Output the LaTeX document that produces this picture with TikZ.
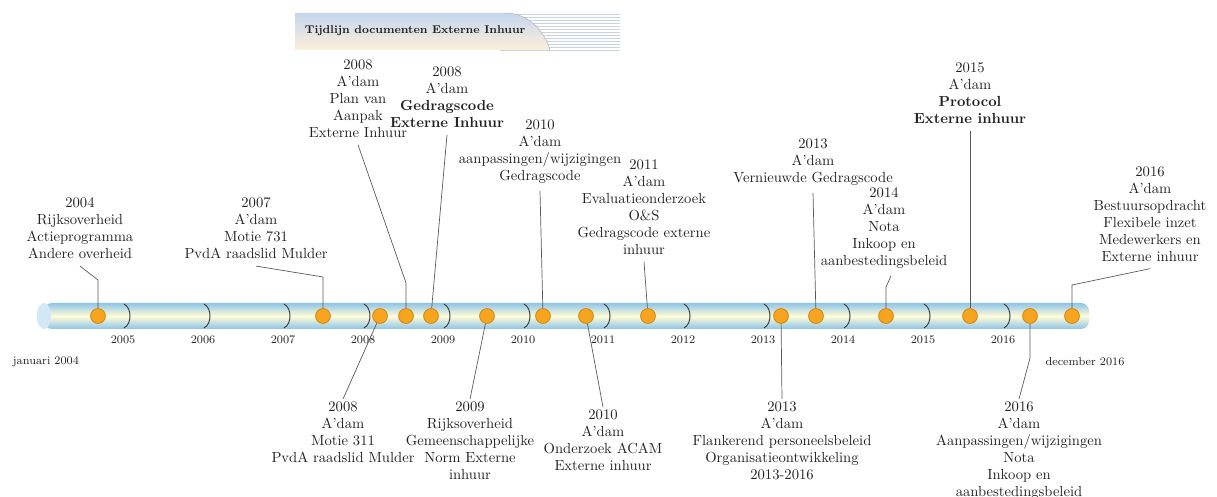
\documentclass[tikz,border=0pt]{standalone}
\usepackage{tikz}
\definecolor{tubeblue}{HTML}{8EC4E8}
\definecolor{tubecream}{HTML}{FFFCD8}
\definecolor{tubeend}{HTML}{D3E7F6}
\definecolor{dotorange}{HTML}{F7A51E}
\definecolor{dotedge}{HTML}{D0860F}
\definecolor{linkgray}{HTML}{5A5A5A}
\definecolor{textgray}{HTML}{222222}
\definecolor{bannertop}{HTML}{C6D6EE}
\definecolor{bannerbot}{HTML}{FBF0D9}
\definecolor{bannerline}{HTML}{C9D3E3}

\begin{document}
\begin{tikzpicture}[x=0.025cm, y=-0.025cm,
  dot/.style={circle, fill=dotorange, draw=dotedge, line width=0.6pt, minimum size=0.37cm, inner sep=0pt},
  event/.style={align=center, font=\fontsize{10.4}{12}\selectfont, inner sep=2pt, text=textgray},
  yearlbl/.style={font=\fontsize{8.2}{10}\selectfont, text=textgray},
  link/.style={draw=linkgray, line width=0.5pt},
  yearmark/.style={draw=black!75, line width=0.7pt}]
    \useasboundingbox (0,0) rectangle (1217,497);
    % banner
    \foreach \y in {14,17,...,50}
        \draw[bannerline, line width=0.4pt] (500,\y) -- (620,\y);
    \shade[top color=bannertop, bottom color=bannerbot] (295,13) -- (505,13) .. controls (530,13) and (545,33) .. (550,50) -- (295,50) -- cycle;
    \draw[gray!55, line width=0.4pt] (505,13) .. controls (530,13) and (545,33) .. (550,50);
    \node[anchor=west, font=\bfseries\fontsize{8}{9}\selectfont, text=textgray] (title) at (300,31) {Tijdlijn documenten Externe Inhuur};
    % tube
    \shade[top color=tubeblue, bottom color=tubeblue, middle color=tubecream, rounded corners=0.2cm] (44,303) rectangle (1089,329);
    \fill[tubeend] (44,316) ellipse [x radius=0.18cm, y radius=0.325cm];
    \foreach \x [count=\i from 2005] in {130,210,...,1010} {
        \draw[yearmark] (\x-6,304) .. controls (\x+2,308) and (\x+2,324) .. (\x-6,328);
        \node[yearlbl] (y\i) at (\x-7,340) {\i};
    }
    \node[yearlbl, anchor=west] (start) at (8,362) {januari 2004};
    \node[yearlbl] (end) at (1085,362) {december 2016};
    % events
    \foreach \x [count=\i] in {98,323,380,406,431,487,543,586,648,781,816,886,970,1030,1072}
        \node[dot] (e\i) at (\x,316) {};
    \node[event, anchor=north] (n1) at (80,195) {2004\\Rijksoverheid\\Actieprogramma\\Andere overheid};
    \node[event, anchor=north] (n2) at (256,195) {2007\\A'dam\\Motie 731\\PvdA raadslid Mulder};
    \node[event, anchor=north] (n3) at (343,399) {2008\\A'dam\\Motie 311\\PvdA raadslid Mulder};
    \node[event, anchor=north] (n4) at (358,57) {2008\\A'dam\\Plan van\\Aanpak\\Externe Inhuur};
    \node[event, anchor=north] (n5) at (447,64) {2008\\A'dam\\\textbf{Gedragscode}\\\textbf{Externe Inhuur}};
    \node[event, anchor=north] (n6) at (470,399) {2009\\Rijksoverheid\\Gemeenschappelijke\\Norm Externe\\inhuur};
    \node[event, anchor=north] (n7) at (540,117) {2010\\A'dam\\aanpassingen/wijzigingen\\Gedragscode};
    \node[event, anchor=north] (n8) at (603,407) {2010\\A'dam\\Onderzoek ACAM\\Externe inhuur};
    \node[event, anchor=north] (n9) at (644,157) {2011\\A'dam\\Evaluatieonderzoek\\O\&S\\Gedragscode externe\\inhuur};
    \node[event, anchor=north] (n10) at (782,399) {2013\\A'dam\\Flankerend personeelsbeleid\\Organisatieontwikkeling\\2013-2016};
    \node[event, anchor=north] (n11) at (813,136) {2013\\A'dam\\Vernieuwde Gedragscode};
    \node[event, anchor=north] (n12) at (884,185) {2014\\A'dam\\Nota\\Inkoop en\\aanbestedingsbeleid};
    \node[event, anchor=north] (n13) at (970,60) {2015\\A'dam\\\textbf{Protocol}\\\textbf{Externe inhuur}};
    \node[event, anchor=north] (n14) at (1019,399) {2016\\A'dam\\Aanpassingen/wijzigingen\\Nota\\Inkoop en\\aanbestedingsbeleid};
    \node[event, anchor=north] (n15) at (1150,164) {2016\\A'dam\\Bestuursopdracht\\Flexibele inzet\\Medewerkers en\\Externe inhuur};
    % connectors
    \draw[link] ([yshift=-3pt]n1.south) -- (e1 |- 0,280) -- (e1);
    \draw[link] ([yshift=-3pt]n2.south) -- (e2 |- 0,277) -- (e2);
    \draw[link] (e3) -- (n3.north);
    \draw[link] ([yshift=-3pt]n4.south) -- (e4 |- 0,283) -- (e4);
    \draw[link] ([yshift=-3pt]n5.south) -- (e5);
    \draw[link] (e6) -- (n6.north);
    \draw[link] ([yshift=-3pt]n7.south) -- (e7);
    \draw[link] (e8) -- (n8.north);
    \draw[link] ([yshift=-3pt]n9.south) -- (e9);
    \draw[link] (e10) -- (n10.north);
    \draw[link] ([yshift=-3pt]n11.south) -- (e11);
    \draw[link] ([xshift=5pt, yshift=-3pt]n12.south) -- (e12 |- 0,287) -- (e12);
    \draw[link] ([yshift=-3pt]n13.south) -- (e13);
    \draw[link] (e14) -- (e14 |- 0,358) -- (n14.north);
    \draw[link] ([yshift=-3pt]n15.south) -- (e15 |- 0,285) -- (e15);
\end{tikzpicture}
\end{document}
